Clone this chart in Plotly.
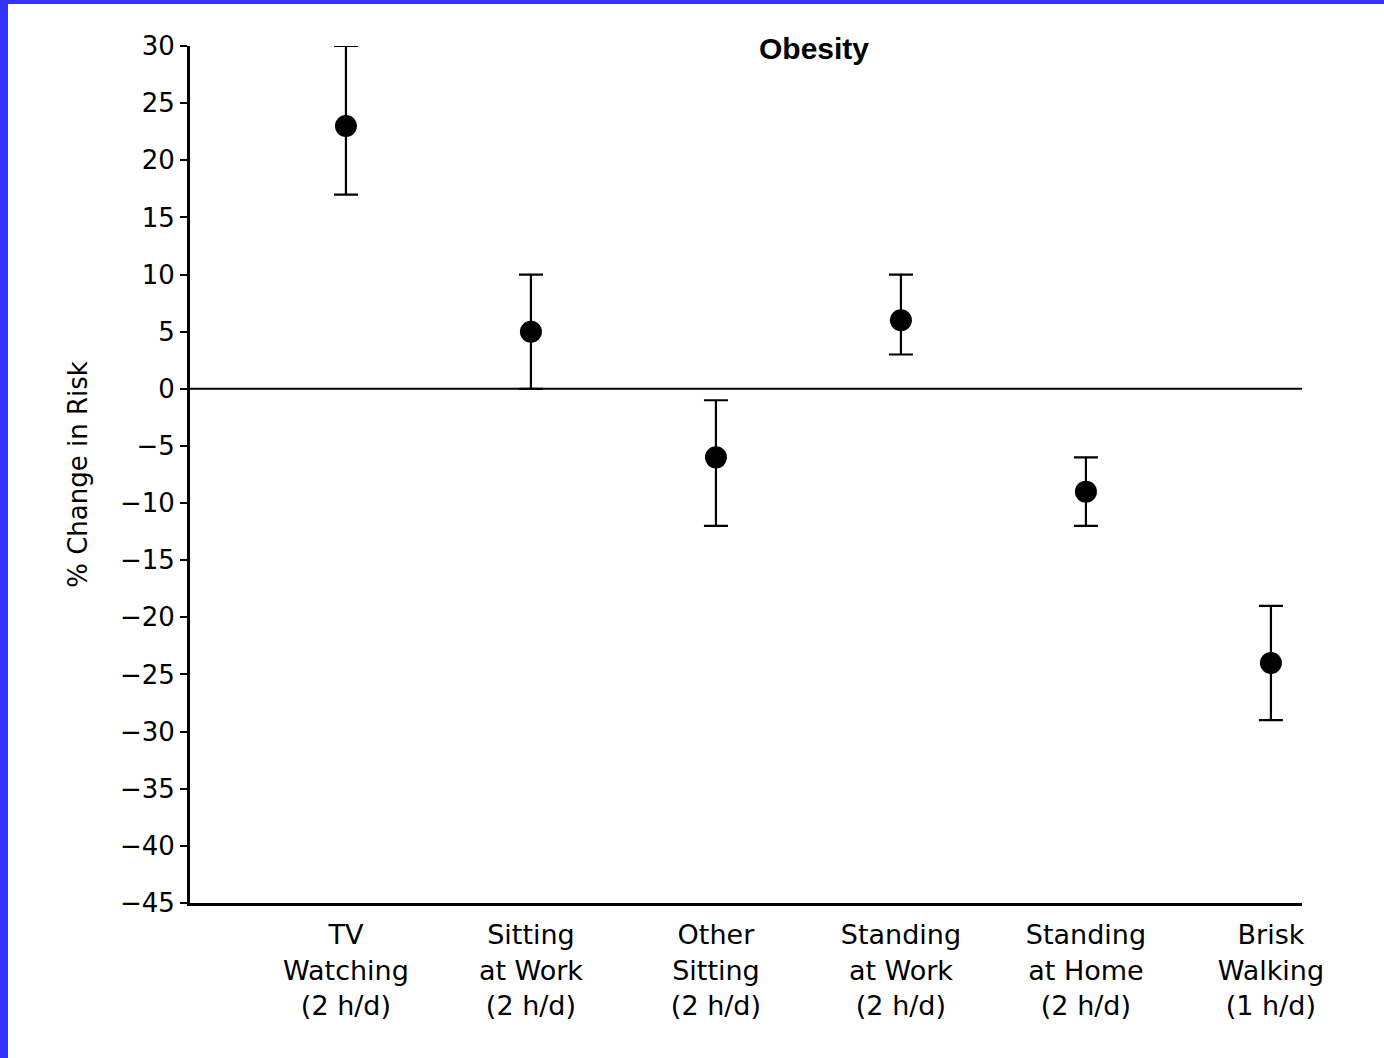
import plotly.graph_objects as go

# Activities and their estimated % change in obesity risk with 95% CI
categories = ["TV<br>Watching<br>(2 h/d)", "Sitting<br>at Work<br>(2 h/d)", "Other<br>Sitting<br>(2 h/d)",
              "Standing<br>at Work<br>(2 h/d)", "Standing<br>at Home<br>(2 h/d)", "Brisk<br>Walking<br>(1 h/d)"]
estimate = [23, 5, -6, 6, -9, -24]
ci_low = [17, 0, -12, 3, -12, -29]
ci_high = [30, 10, -1, 10, -6, -19]
y_ticks = list(range(30, -50, -5))

x_pos = list(range(len(categories)))
err_plus = [h - e for h, e in zip(ci_high, estimate)]
err_minus = [e - l for e, l in zip(estimate, ci_low)]

font_family = "DejaVu Sans, Arial, sans-serif"

fig = go.Figure()
fig.add_trace(go.Scatter(
    x=x_pos, y=estimate, mode="markers",
    marker=dict(color="black", size=22),
    error_y=dict(type="data", symmetric=False, array=err_plus, arrayminus=err_minus,
                 color="black", thickness=2.2, width=12),
    showlegend=False,
))

# zero reference line
fig.add_shape(type="line", xref="paper", yref="y", x0=0, x1=1, y0=0, y1=0,
              line=dict(color="black", width=2))

W, H = 1384, 1058
ml, mr, mt, mb = 190, 82, 46, 155
pw, ph = W - ml - mr, H - mt - mb
# blue frame along the left and top edges
fig.add_shape(type="rect", xref="paper", yref="paper",
              x0=(0 - ml) / pw, x1=(8 - ml) / pw, y0=-(mb) / ph, y1=(ph + mt) / ph,
              line=dict(width=0), fillcolor="#3333FF", layer="above")
fig.add_shape(type="rect", xref="paper", yref="paper",
              x0=(0 - ml) / pw, x1=(W - ml) / pw, y0=(ph + mt - 4) / ph, y1=(ph + mt) / ph,
              line=dict(width=0), fillcolor="#3333FF", layer="above")

fig.add_annotation(text="<b>Obesity</b>", xref="paper", yref="paper",
                   x=(814 - ml) / pw, y=(H - 48 - mb) / ph, showarrow=False,
                   font=dict(size=30, color="black", family="Liberation Sans, Arial, sans-serif"),
                   xanchor="center", yanchor="middle")

fig.update_layout(
    width=W, height=H,
    margin=dict(l=ml, r=mr, t=mt, b=mb),
    paper_bgcolor="white", plot_bgcolor="white",
    font=dict(family=font_family, color="black"),
    xaxis=dict(
        range=[-0.843, 5.168], tickmode="array", tickvals=x_pos, ticktext=categories,
        showgrid=False, zeroline=False, showline=True, linecolor="black", linewidth=3,
        ticks="", tickfont=dict(size=27), ticklabelstandoff=6,
    ),
    yaxis=dict(
        range=[-45, 30], tickmode="array", tickvals=y_ticks,
        showgrid=False, zeroline=False, showline=True, linecolor="black", linewidth=3,
        ticks="outside", ticklen=7, tickwidth=2, tickcolor="black",
        tickfont=dict(size=26),
        title=dict(text="% Change in Risk", font=dict(size=26), standoff=25),
    ),
)

fig.write_html("out.html")
